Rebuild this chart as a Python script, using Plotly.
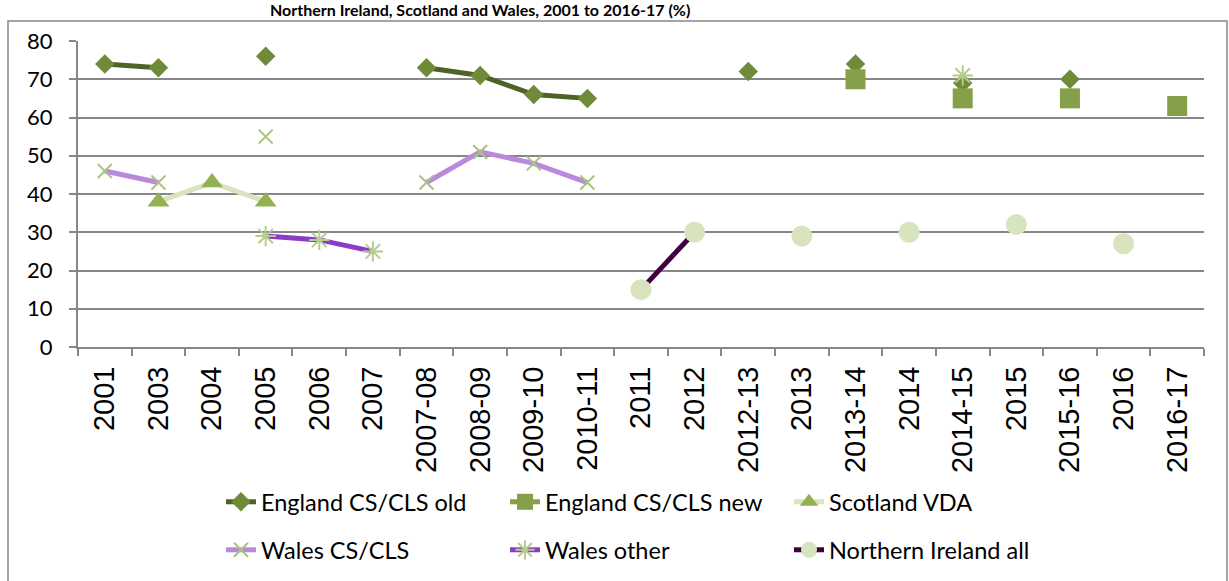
import plotly.graph_objects as go

categories = ["2001", "2003", "2004", "2005", "2006", "2007", "2007-08", "2008-09",
              "2009-10", "2010-11", "2011", "2012", "2012-13", "2013", "2013-14",
              "2014", "2014-15", "2015", "2015-16", "2016", "2016-17"]

N = None
england_old = [74, 73, N, 76, N, N, 73, 71, 66, 65, N, N, 72, N, 74, N, 69, N, 70, N, N]
england_new = [N, N, N, N, N, N, N, N, N, N, N, N, N, N, 70, N, 65, N, 65, N, 63]
scotland_vda = [N, 38, 43, 38, N, N, N, N, N, N, N, N, N, N, N, N, N, N, N, N, N]
wales_cscls = [46, 43, N, 55, N, N, 43, 51, 48, 43, N, N, N, N, N, N, N, N, N, N, N]
wales_other = [N, N, N, 29, 28, 25, N, N, N, N, N, N, N, N, N, N, 71, N, N, N, N]
ni_all = [N, N, N, N, N, N, N, N, N, N, 15, 30, N, 29, N, 30, N, 32, N, 27, N]

series_names = ["England CS/CLS old", "England CS/CLS new", "Scotland VDA",
                "Wales CS/CLS", "Wales other", "Northern Ireland all"]
title_text = "Northern Ireland, Scotland and Wales, 2001 to 2016-17 (%)"

GRID = "#878787"
FONT_C = "Lato, 'Open Sans', sans-serif"

styles = [
    dict(values=england_old, line="#4F6228", marker=dict(symbol="diamond", size=15, color="#6F8B3A"), legend="legend"),
    dict(values=england_new, line="#86A04A", marker=dict(symbol="square", size=20, color="#86A04A"), legend="legend"),
    dict(values=scotland_vda, line="#D7E4BD", marker=dict(symbol="triangle-up", size=19, color="#93B152"), legend="legend"),
    dict(values=wales_cscls, line="#B98ADB", marker=dict(symbol="x-thin-open", size=14, color="#A9C47F", line=dict(width=2, color="#A9C47F")), legend="legend2"),
    dict(values=wales_other, line="#8A3CC4", marker=dict(symbol="asterisk-open", size=17, color="#B5CC8E", line=dict(width=2, color="#B5CC8E")), legend="legend2"),
    dict(values=ni_all, line="#400040", marker=dict(symbol="circle", size=21, color="#D7E4BD"), legend="legend2"),
]

fig = go.Figure()
for name, st in zip(series_names, styles):
    fig.add_trace(go.Scatter(
        x=categories, y=st["values"], name=name, mode="lines+markers",
        line=dict(color=st["line"], width=5), marker=st["marker"],
        connectgaps=False, legend=st["legend"], cliponaxis=False,
    ))

L, R, T, B = 78, 25, 41, 234
W, H = 1229, 581
pw, ph = W - L - R, H - T - B

def px_x(px):
    return (px - L) / pw

def px_y(py):
    return (H - B - py) / ph

legend_common = dict(orientation="h", xanchor="left", yanchor="middle",
                     xref="container", yref="container",
                     entrywidth=239, entrywidthmode="pixels",
                     font=dict(size=23.5, family=FONT_C, color="#000000"),
                     bgcolor="rgba(0,0,0,0)", itemclick=False)

fig.update_layout(
    width=W, height=H,
    margin=dict(l=L, r=R, t=T, b=B, autoexpand=False),
    paper_bgcolor="white", plot_bgcolor="white",
    font=dict(family=FONT_C, size=22, color="#000000"),
    xaxis=dict(
        type="category", categoryorder="array", categoryarray=categories,
        range=[-0.5, len(categories) - 0.5], automargin=False,
        showgrid=False, showline=True, linecolor=GRID, linewidth=2,
        ticks="outside", tickson="boundaries", ticklen=7, tickwidth=2, tickcolor=GRID,
        tickangle=-90, ticklabelstandoff=6,
        tickfont=dict(family="Arial, 'Liberation Sans', sans-serif", size=29, color="#000000"),
    ),
    yaxis=dict(
        range=[0, 80], dtick=10, showgrid=True, gridcolor=GRID, gridwidth=2,
        showline=True, linecolor=GRID, linewidth=2, zeroline=False, automargin=False,
        ticks="outside", ticklen=7, tickwidth=2, tickcolor=GRID,
        ticklabelstandoff=12,
        tickfont=dict(family=FONT_C, size=22, color="#000000"),
    ),
    legend=dict(legend_common, x=221 / W, y=1 - 502 / H),
    legend2=dict(legend_common, x=221 / W, y=1 - 550 / H),
    shapes=[dict(type="rect", xref="paper", yref="paper",
                 x0=px_x(8), x1=px_x(1227), y0=px_y(595), y1=px_y(21),
                 line=dict(color=GRID, width=1.5), fillcolor="rgba(0,0,0,0)", layer="below")],
    annotations=[dict(text="<b>" + title_text + "</b>", xref="paper", yref="paper",
                      x=px_x(692), xanchor="right", y=px_y(10), yanchor="middle",
                      showarrow=False, font=dict(family=FONT_C, size=16, color="#000000"))],
)

fig.write_html("out.html", config={"displayModeBar": False},
               post_script="document.body.style.margin='0';")
